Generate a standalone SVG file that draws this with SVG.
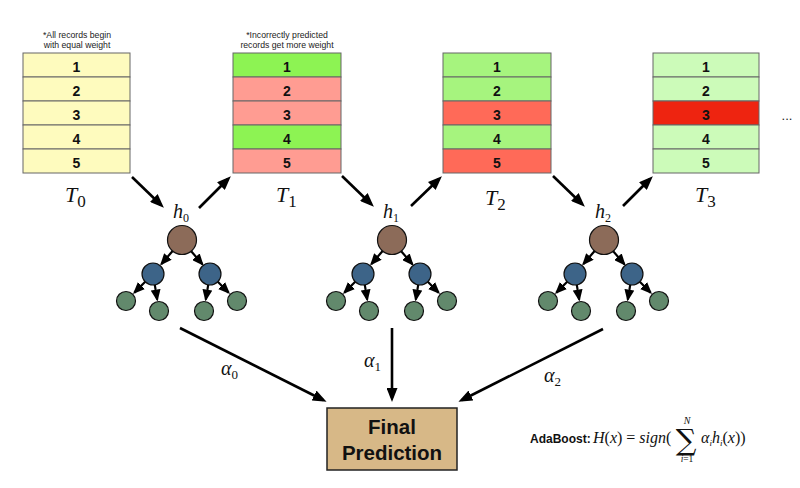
<svg xmlns="http://www.w3.org/2000/svg" width="800" height="488" viewBox="0 0 800 488">
<style>
.row{stroke:#666;stroke-width:1}
.num{font-family:"Liberation Sans",Arial,sans-serif;font-weight:bold;font-size:14px;text-anchor:middle;fill:#111}
.note{font-family:"Liberation Sans",Arial,sans-serif;font-size:8.7px;text-anchor:middle;fill:#222}
.math{font-family:"Liberation Serif","Times New Roman",serif;font-style:italic;fill:#111}
.up{font-style:normal}
.root{fill:#8C6B59;stroke:#111;stroke-width:1.2}
.mid{fill:#3D6488;stroke:#111;stroke-width:1.2}
.leaf{fill:#62896C;stroke:#111;stroke-width:1.2}
.big{stroke:#000;stroke-width:2.6;fill:none;marker-end:url(#ah)}
.sm{stroke:#000;stroke-width:2.2;fill:none;marker-end:url(#as)}
.y{fill:#FEFBBE}.g1{fill:#8DF353}.p1{fill:#FF9C92}.g2{fill:#A6F47E}.r2{fill:#FF6A58}.g3{fill:#CCFBB9}.r3{fill:#EE2410}
</style>
<defs>
<marker id="ah" markerUnits="userSpaceOnUse" viewBox="0 0 14 11" markerWidth="14" markerHeight="11" refX="10" refY="5.5" orient="auto"><path d="M0,0 L14,5.5 L0,11 z" fill="#000"/></marker>
<marker id="as" markerUnits="userSpaceOnUse" viewBox="0 0 12 10" markerWidth="12" markerHeight="10" refX="10" refY="5" orient="auto"><path d="M0,0 L12,5 L0,10 z" fill="#000"/></marker>
</defs>
<rect width="800" height="488" fill="#fff"/>

<g id="T0">
<text class="note" x="77" y="37.5">*All records begin</text>
<text class="note" x="77" y="47.5">with equal weight</text>
<rect class="row y" x="23" y="53" width="107" height="24"/>
<rect class="row y" x="23" y="77" width="107" height="24"/>
<rect class="row y" x="23" y="101" width="107" height="24"/>
<rect class="row y" x="23" y="125" width="107" height="24"/>
<rect class="row y" x="23" y="149" width="107" height="24"/>
<text class="num" x="76.5" y="72">1</text><text class="num" x="76.5" y="96">2</text><text class="num" x="76.5" y="120">3</text><text class="num" x="76.5" y="144">4</text><text class="num" x="76.5" y="168">5</text>
<text class="math" x="65" y="202" font-size="22">T<tspan class="up" font-size="17" dy="5">0</tspan></text>
</g>

<g id="T1">
<text class="note" x="287" y="37.5">*Incorrectly predicted</text>
<text class="note" x="287" y="47.5">records get more weight</text>
<rect class="row g1" x="233" y="53" width="108" height="24"/>
<rect class="row p1" x="233" y="77" width="108" height="24"/>
<rect class="row p1" x="233" y="101" width="108" height="24"/>
<rect class="row g1" x="233" y="125" width="108" height="24"/>
<rect class="row p1" x="233" y="149" width="108" height="24"/>
<text class="num" x="287" y="72">1</text><text class="num" x="287" y="96">2</text><text class="num" x="287" y="120">3</text><text class="num" x="287" y="144">4</text><text class="num" x="287" y="168">5</text>
<text class="math" x="276" y="202" font-size="22">T<tspan class="up" font-size="17" dy="5">1</tspan></text>
</g>

<g id="T2">
<rect class="row g2" x="443" y="53" width="108" height="24"/>
<rect class="row g2" x="443" y="77" width="108" height="24"/>
<rect class="row r2" x="443" y="101" width="108" height="24"/>
<rect class="row g2" x="443" y="125" width="108" height="24"/>
<rect class="row r2" x="443" y="149" width="108" height="24"/>
<text class="num" x="497" y="72">1</text><text class="num" x="497" y="96">2</text><text class="num" x="497" y="120">3</text><text class="num" x="497" y="144">4</text><text class="num" x="497" y="168">5</text>
<text class="math" x="485" y="205" font-size="22">T<tspan class="up" font-size="17" dy="5">2</tspan></text>
</g>

<g id="T3">
<rect class="row g3" x="653" y="53" width="106" height="24"/>
<rect class="row g3" x="653" y="77" width="106" height="24"/>
<rect class="row r3" x="653" y="101" width="106" height="24"/>
<rect class="row g3" x="653" y="125" width="106" height="24"/>
<rect class="row g3" x="653" y="149" width="106" height="24"/>
<text class="num" x="706" y="72">1</text><text class="num" x="706" y="96">2</text><text class="num" x="706" y="120">3</text><text class="num" x="706" y="144">4</text><text class="num" x="706" y="168">5</text>
<text class="math" x="695" y="202" font-size="22">T<tspan class="up" font-size="17" dy="5">3</tspan></text>
<text x="787" y="120" font-family="Liberation Sans,Arial,sans-serif" font-size="13" text-anchor="middle" fill="#222">...</text>
</g>

<g id="h0">
<text class="math" x="173" y="218" font-size="20">h<tspan class="up" font-size="12" dy="4">0</tspan></text>
<circle class="root" cx="182" cy="240" r="14.5"/>
<circle class="mid" cx="153" cy="274" r="11"/><circle class="mid" cx="210" cy="274" r="11"/>
<circle class="leaf" cx="126" cy="301" r="9.5"/><circle class="leaf" cx="159" cy="311" r="9.5"/><circle class="leaf" cx="204" cy="311" r="9.5"/><circle class="leaf" cx="237" cy="301" r="9.5"/>
</g>
<g id="h1">
<text class="math" x="383" y="218" font-size="20">h<tspan class="up" font-size="12" dy="4">1</tspan></text>
<circle class="root" cx="392" cy="240" r="14.5"/>
<circle class="mid" cx="363" cy="274" r="11"/><circle class="mid" cx="420" cy="274" r="11"/>
<circle class="leaf" cx="336" cy="301" r="9.5"/><circle class="leaf" cx="369" cy="311" r="9.5"/><circle class="leaf" cx="414" cy="311" r="9.5"/><circle class="leaf" cx="447" cy="301" r="9.5"/>
</g>
<g id="h2">
<text class="math" x="595" y="218" font-size="20">h<tspan class="up" font-size="12" dy="4">2</tspan></text>
<circle class="root" cx="604" cy="240" r="14.5"/>
<circle class="mid" cx="575" cy="274" r="11"/><circle class="mid" cx="632" cy="274" r="11"/>
<circle class="leaf" cx="548" cy="301" r="9.5"/><circle class="leaf" cx="581" cy="311" r="9.5"/><circle class="leaf" cx="626" cy="311" r="9.5"/><circle class="leaf" cx="659" cy="301" r="9.5"/>
</g>

<g id="connectors">
<line class="big" x1="132" y1="177" x2="161" y2="205"/>
<line class="big" x1="199" y1="208" x2="228" y2="179"/>
<line class="big" x1="342" y1="176" x2="371" y2="204"/>
<line class="big" x1="411" y1="206" x2="439" y2="179"/>
<line class="big" x1="553" y1="176" x2="582" y2="204"/>
<line class="big" x1="623" y1="206" x2="650" y2="179"/>
<line class="big" x1="180" y1="328" x2="323" y2="400"/>
<line class="big" x1="392" y1="328" x2="392" y2="398"/>
<line class="big" x1="603" y1="329" x2="462" y2="400"/>
<g transform="translate(182,0)">
<line class="sm" x1="-9.4" y1="251" x2="-20.6" y2="264"/>
<line class="sm" x1="9.2" y1="251.2" x2="20.4" y2="264.3"/>
<line class="sm" x1="-36.8" y1="281.8" x2="-47.6" y2="292.6"/>
<line class="sm" x1="-27.2" y1="284.9" x2="-24.8" y2="299.6"/>
<line class="sm" x1="26.2" y1="284.9" x2="23.8" y2="299.6"/>
<line class="sm" x1="35.8" y1="281.8" x2="46.6" y2="292.6"/>
</g>
<g transform="translate(392,0)">
<line class="sm" x1="-9.4" y1="251" x2="-20.6" y2="264"/>
<line class="sm" x1="9.2" y1="251.2" x2="20.4" y2="264.3"/>
<line class="sm" x1="-36.8" y1="281.8" x2="-47.6" y2="292.6"/>
<line class="sm" x1="-27.2" y1="284.9" x2="-24.8" y2="299.6"/>
<line class="sm" x1="26.2" y1="284.9" x2="23.8" y2="299.6"/>
<line class="sm" x1="35.8" y1="281.8" x2="46.6" y2="292.6"/>
</g>
<g transform="translate(604,0)">
<line class="sm" x1="-9.4" y1="251" x2="-20.6" y2="264"/>
<line class="sm" x1="9.2" y1="251.2" x2="20.4" y2="264.3"/>
<line class="sm" x1="-36.8" y1="281.8" x2="-47.6" y2="292.6"/>
<line class="sm" x1="-27.2" y1="284.9" x2="-24.8" y2="299.6"/>
<line class="sm" x1="26.2" y1="284.9" x2="23.8" y2="299.6"/>
<line class="sm" x1="35.8" y1="281.8" x2="46.6" y2="292.6"/>
</g>
<text class="math" x="221" y="375" font-size="20">α<tspan class="up" font-size="13" dy="4">0</tspan></text>
<text class="math" x="364" y="367" font-size="20">α<tspan class="up" font-size="13" dy="4">1</tspan></text>
<text class="math" x="544" y="382" font-size="20">α<tspan class="up" font-size="13" dy="4">2</tspan></text>
</g>

<g id="final">
<rect x="327" y="408" width="130" height="62" fill="#D7B887" stroke="#222" stroke-width="1.5"/>
<text x="392" y="434" font-family="Liberation Sans,Arial,sans-serif" font-weight="bold" font-size="20.5" text-anchor="middle" fill="#111">Final</text>
<text x="392" y="460" font-family="Liberation Sans,Arial,sans-serif" font-weight="bold" font-size="20.5" text-anchor="middle" fill="#111">Prediction</text>
</g>

<g id="formula">
<text x="530" y="443" font-family="Liberation Sans,Arial,sans-serif" font-weight="bold" font-size="12" fill="#111">AdaBoost:</text>
<text class="math" x="593" y="443" font-size="16">H<tspan class="up">(</tspan>x<tspan class="up">) = </tspan>sign<tspan class="up">(</tspan></text>
<text x="686" y="450" font-family="DejaVu Serif,serif" font-size="29" text-anchor="middle" fill="#111">∑</text>
<text class="math" x="687" y="424" font-size="10" text-anchor="middle">N</text>
<text class="math" x="687" y="462" font-size="9.5" text-anchor="middle">i<tspan class="up">=1</tspan></text>
<text class="math" x="701" y="443" font-size="16">α<tspan font-size="9" dy="3">i</tspan><tspan dy="-3">h</tspan><tspan font-size="9" dy="3">i</tspan><tspan class="up" dy="-3">(</tspan>x<tspan class="up">))</tspan></text>
</g>
</svg>
